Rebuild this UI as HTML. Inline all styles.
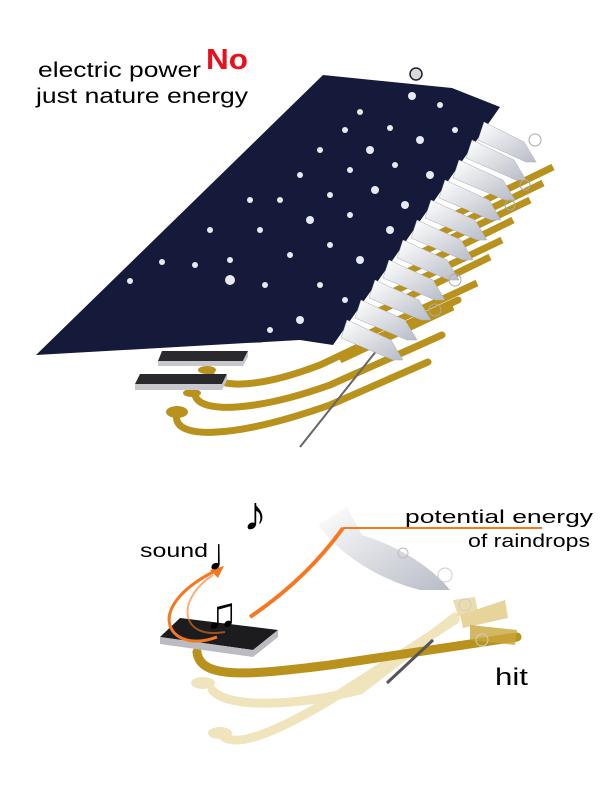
<!DOCTYPE html>
<html><head><meta charset="utf-8"><style>
html,body{margin:0;padding:0;background:#fff;}
svg{display:block}
text{font-family:"Liberation Sans",sans-serif;}
</style></head><body>
<svg width="600" height="800" viewBox="0 0 600 800" xmlns="http://www.w3.org/2000/svg">
<defs>
<linearGradient id="w" x1="0" y1="0" x2="1" y2="1"><stop offset="0" stop-color="#ffffff"/><stop offset="1" stop-color="#b8bcc6"/></linearGradient>
</defs>
<g fill="none" stroke="#b8921c" stroke-width="7" stroke-linecap="butt">
<path d="M553,167 L440,222"/><path d="M543,183 L430,238"/><path d="M530,200 L410,258"/>
<path d="M513,220 L395,278"/><path d="M502,240 L380,298"/><path d="M490,257 L365,318"/>
<path d="M477,283 L355,340"/><path d="M453,307 L340,360"/>
</g>
<g fill="none" stroke="#b8921c" stroke-width="7" stroke-linecap="round">
<path d="M210,372 C215,390 260,388 320,365 L458,300"/>
<path d="M195,395 C200,415 260,410 330,385 L442,335"/>
<path d="M177,413 C170,440 230,440 330,405 L428,362"/>
</g>
<ellipse cx="207" cy="370" rx="9" ry="4" fill="#b8921c"/>
<ellipse cx="192" cy="393" rx="9" ry="4" fill="#b8921c"/>
<ellipse cx="177" cy="412" rx="11" ry="6" fill="#b8921c"/>
<line x1="385" y1="340" x2="300" y2="447" stroke="#666" stroke-width="2"/>
<g>
<polygon points="185,328 268,328 262,338 182,338" fill="#2a2a2e"/><polygon points="182,338 262,338 267,328 267,334 262,343 182,343" fill="#c8c8cc"/>
<polygon points="162,351 248,351 243,361 158,361" fill="#2a2a2e"/><polygon points="158,361 243,361 248,351 248,357 243,366 158,366" fill="#c8c8cc"/>
<polygon points="140,374 227,374 222,384 135,384" fill="#2a2a2e"/><polygon points="135,384 222,384 227,374 227,380 222,390 135,390" fill="#c8c8cc"/>
</g>
<polygon points="36,355 323,75 452,88 500,107 333,345 300,340" fill="#151a3a"/>
<g fill="url(#w)" stroke="#a8acb6" stroke-width="0.5">
<path d="M484,122 l40,20 l12,20 l-10,0 l-48,-22 z"/>
<path d="M472,140 l42,20 l12,20 l-10,0 l-50,-22 z"/>
<path d="M459,160 l44,20 l12,20 l-10,0 l-52,-22 z"/>
<path d="M445,180 l44,20 l12,20 l-10,0 l-52,-22 z"/>
<path d="M431,200 l44,20 l12,20 l-10,0 l-52,-22 z"/>
<path d="M417,220 l44,20 l12,20 l-10,0 l-52,-22 z"/>
<path d="M403,240 l44,20 l12,20 l-10,0 l-52,-22 z"/>
<path d="M389,260 l44,20 l12,20 l-10,0 l-52,-22 z"/>
<path d="M375,280 l44,20 l12,20 l-10,0 l-52,-22 z"/>
<path d="M361,300 l44,20 l12,20 l-10,0 l-52,-22 z"/>
<path d="M347,320 l44,20 l12,20 l-10,0 l-52,-22 z"/>
</g>
<g fill="#e8eaf0">
<circle cx="412" cy="96" r="4"/><circle cx="360" cy="112" r="3"/><circle cx="440" cy="105" r="3"/><circle cx="390" cy="128" r="3"/>
<circle cx="345" cy="130" r="3"/><circle cx="420" cy="140" r="4"/><circle cx="370" cy="150" r="4"/><circle cx="320" cy="150" r="3"/>
<circle cx="455" cy="130" r="3"/><circle cx="395" cy="165" r="3"/><circle cx="430" cy="175" r="4"/><circle cx="350" cy="170" r="3"/>
<circle cx="300" cy="175" r="3"/><circle cx="375" cy="190" r="4"/><circle cx="330" cy="195" r="3"/><circle cx="405" cy="205" r="4"/>
<circle cx="280" cy="200" r="3"/><circle cx="350" cy="215" r="3"/><circle cx="310" cy="220" r="4"/><circle cx="390" cy="230" r="4"/>
<circle cx="260" cy="230" r="3"/><circle cx="330" cy="245" r="3"/><circle cx="290" cy="255" r="3"/><circle cx="360" cy="260" r="4"/>
<circle cx="230" cy="260" r="3"/><circle cx="265" cy="285" r="3"/><circle cx="320" cy="285" r="3"/><circle cx="230" cy="280" r="5"/>
<circle cx="195" cy="265" r="3"/><circle cx="162" cy="262" r="3"/><circle cx="130" cy="281" r="3"/><circle cx="300" cy="320" r="4"/>
<circle cx="345" cy="300" r="3"/><circle cx="270" cy="330" r="3"/><circle cx="250" cy="200" r="3"/><circle cx="210" cy="230" r="3"/>
</g>
<circle cx="416" cy="74" r="6" fill="#d8dae0" stroke="#222" stroke-width="1.5"/>
<circle cx="535" cy="140" r="6" fill="none" stroke="#aaa"/>
<circle cx="525" cy="185" r="5" fill="none" stroke="#aaa"/><circle cx="510" cy="205" r="5" fill="none" stroke="#aaa"/>
<circle cx="455" cy="280" r="6" fill="none" stroke="#aaa"/><circle cx="435" cy="310" r="6" fill="none" stroke="#aaa"/>
<text x="38" y="77" font-size="21" fill="#000" textLength="163" lengthAdjust="spacingAndGlyphs">electric power</text>
<text x="206" y="69" font-size="29" font-weight="bold" fill="#e8101c" textLength="42" lengthAdjust="spacingAndGlyphs">No</text>
<text x="36" y="103" font-size="21" fill="#000" textLength="212" lengthAdjust="spacingAndGlyphs">just nature energy</text>
<g fill="none" stroke-linecap="round">
<path d="M212,690 C230,710 300,705 360,690 L455,617" stroke="#f0e4bd" stroke-width="9"/>
<path d="M222,735 C235,750 280,730 330,700 L455,620" stroke="#f0e4bd" stroke-width="9"/>
<path d="M197,652 C200,680 250,675 330,665 L517,637" stroke="#b8921c" stroke-width="9"/>
</g>
<polygon points="453,600 475,597 478,612 458,616" fill="#eadcae"/>
<polygon points="460,615 505,600 508,618 463,628" fill="#e6d49a"/>
<polygon points="470,625 517,630 515,645 470,640" fill="#c9a53a" opacity="0.8"/>
<ellipse cx="203" cy="683" rx="12" ry="6" fill="#f0e4bd"/><ellipse cx="220" cy="733" rx="12" ry="6" fill="#f0e4bd"/>
<line x1="387" y1="683" x2="433" y2="640" stroke="#555" stroke-width="3"/>
<polygon points="180,618 278,630 253,650 160,637" fill="#1c1c1e"/>
<polygon points="160,637 253,650 278,630 278,637 253,657 160,644" fill="#bbbcc2"/>
<path d="M318,525 L347,507 L362,535 C395,545 430,565 450,590 L420,590 C380,580 340,555 318,525 z" fill="url(#w)"/>
<circle cx="403" cy="553" r="5" fill="none" stroke="#bbb"/><circle cx="445" cy="575" r="7" fill="none" stroke="#ccc"/>
<circle cx="465" cy="605" r="6" fill="none" stroke="#ccc"/><circle cx="482" cy="640" r="6" fill="none" stroke="#ccc"/>
<path d="M217,637 C170,655 140,610 213,572" stroke="#f57820" stroke-width="3" fill="none"/>
<path d="M225,632 C180,640 175,600 213,575" stroke="#f57820" stroke-width="2" fill="none" opacity="0.6"/>
<path d="M250,617 C290,590 320,560 343,528" stroke="#f57820" stroke-width="4" fill="none"/>
<line x1="343" y1="528" x2="542" y2="528" stroke="#f57820" stroke-width="2"/>
<path d="M210,570 l14,-4 l-6,12 z" fill="#f57820"/>
<text x="405" y="523" font-size="18" fill="#000" textLength="188" lengthAdjust="spacingAndGlyphs">potential energy</text>
<text x="468" y="547" font-size="18" fill="#000" textLength="122" lengthAdjust="spacingAndGlyphs">of raindrops</text>
<text x="140" y="557" font-size="19" fill="#000" textLength="68" lengthAdjust="spacingAndGlyphs">sound</text>
<text x="495" y="685" font-size="24" fill="#000" textLength="33" lengthAdjust="spacingAndGlyphs">hit</text>
<text x="243" y="530" font-size="48" fill="#000">♪</text>
<text x="207" y="570" font-size="46" fill="#000">♩</text>
<text x="205" y="628" font-size="44" fill="#000">♫</text>
</svg>
</body></html>
